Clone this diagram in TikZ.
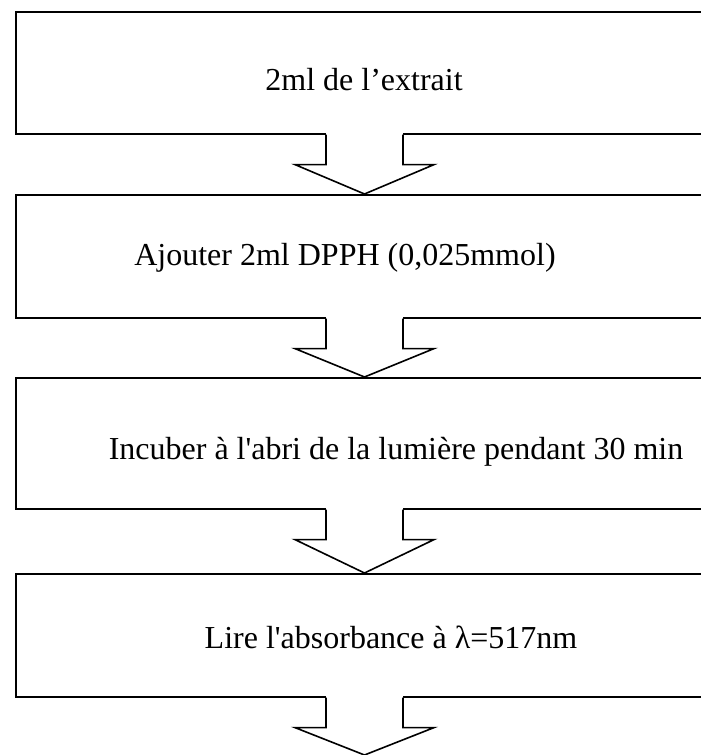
\documentclass[tikz,border=0pt]{standalone}
\usepackage{fontspec}
\setmainfont{Liberation Serif}
\usetikzlibrary{positioning}

% block arrow from the bottom of one box to the top of the next
\newcommand{\blockarrow}[2]{%
  \fill[white] ([xshift=311pt,yshift=1.5pt]#1.south west) rectangle ([xshift=388pt,yshift=-2pt]#1.south west);
  \draw[arrowline] ([xshift=311pt]#1.south west) -- ++(0,30) -- ++(-31,0)
    -- ([xshift=349.5pt]#2) -- ([xshift=419pt,yshift=-30pt]#1.south west) -- ++(-31,0)
    -- ([xshift=388pt]#1.south west);
}

\begin{document}
\begin{tikzpicture}[x=1pt,y=-1pt,
  every node/.style={font=\fontsize{32}{38}\selectfont},
  stepbox/.style={draw,line width=1.6pt,minimum width=765pt,anchor=north west,inner sep=0pt},
  steptext/.style={anchor=base,inner sep=0pt},
  arrowline/.style={line width=1.6pt,fill=white,line join=miter}]

  \useasboundingbox (0,0) rectangle (701,755);
  \clip (0,0) rectangle (701,755);

  % the four steps
  \node[stepbox,minimum height=122pt] (box1) at (15,11) {};
  \node[stepbox,minimum height=123pt] (box2) at (15,194) {};
  \node[stepbox,minimum height=131pt] (box3) at (15,377) {};
  \node[stepbox,minimum height=123pt] (box4) at (15,573) {};
  \coordinate (end) at (15,755);

  % texts of the steps
  \node[steptext] (txt1) at (364,90) {2ml de l’extrait};
  \node[steptext] (txt2) at (345,265) {Ajouter 2ml DPPH (0,025mmol)};
  \node[steptext] (txt3) at (396,459) {Incuber à l\textquotesingle{}abri de la lumière pendant 30 min};
  \node[steptext] (txt4) at (391,648) {Lire l\textquotesingle{}absorbance à λ=517nm};

  % arrows between the steps
  \blockarrow{box1}{box2.north west}
  \blockarrow{box2}{box3.north west}
  \blockarrow{box3}{box4.north west}
  \blockarrow{box4}{end}

\end{tikzpicture}
\end{document}
